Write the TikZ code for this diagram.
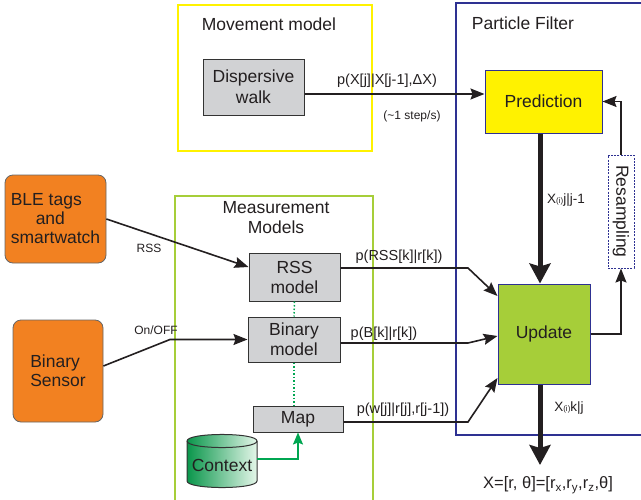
\documentclass[tikz,border=0pt]{standalone}
\usepackage{fontspec}
\setmainfont{Liberation Sans}
\usetikzlibrary{arrows.meta,calc}
\definecolor{orng}{RGB}{242,129,33}
\definecolor{gbox}{RGB}{209,210,212}
\definecolor{ylw}{RGB}{255,242,0}
\definecolor{lgrn}{RGB}{166,206,57}
\definecolor{pfblue}{RGB}{46,49,146}
\definecolor{dgrn}{RGB}{0,166,81}
\definecolor{txt}{RGB}{35,31,32}
\definecolor{cylL}{RGB}{10,150,75}
\definecolor{cylR}{RGB}{228,246,233}
\begin{document}
\begin{tikzpicture}[x=1pt,y=-1pt,
  every node/.style={text=txt},
  big/.style={font=\fontsize{17.5}{21}\selectfont},
  mid/.style={font=\fontsize{14.5}{17}\selectfont},
  outf/.style={font=\fontsize{16.5}{19}\selectfont},
  lbl/.style={font=\fontsize{13.5}{16}\selectfont},
  sml/.style={font=\fontsize{12}{14}\selectfont},
  graybox/.style={draw=black!80, fill=gbox, line width=1pt, inner sep=0pt, big, align=center},
  srcbox/.style={draw=black!60, fill=orng, rounded corners=8pt, line width=0.8pt, inner sep=0pt, font=\fontsize{17.5}{19}\selectfont},
  pfbox/.style={draw=pfblue, line width=1pt, inner sep=0pt, big},
  arr/.style={draw=txt, line width=1.6pt, -{Stealth[length=14pt,width=11pt,inset=2pt]}},
  tarr/.style={draw=txt, line width=5pt, -{Stealth[length=20pt,width=21pt,inset=3pt]}},
  garr/.style={draw=dgrn, line width=1.5pt, -{Stealth[length=12pt,width=10pt,inset=2pt]}},
  gdot/.style={draw=dgrn, line width=1.5pt, dash pattern=on 1.5pt off 2pt}
]
\useasboundingbox (0,0) rectangle (641,499);

% containers
\draw[ylw, line width=2pt] (178,5) rectangle (372,151);
\draw[lgrn, line width=2pt] (175,196) rectangle (373,505);
\draw[pfblue, line width=1.5pt] (456,3) rectangle (648,435);

% titles
\node[big] (movt) at (269,24) {Movement model};
\node[big] (pft) at (523,23) {Particle Filter};
\node[big, align=center, font=\fontsize{17.5}{20}\selectfont] (meast) at (276,218) {Measurement\\Models};

% boxes
\node[graybox, minimum width=101pt, minimum height=56pt] (walk) at (253.5,87) {Dispersive\\walk};
\node[pfbox, fill=ylw, minimum width=117pt, minimum height=63pt] (pred) at (543.5,101.5) {Prediction};
\node[pfbox, fill=lgrn, minimum width=92pt, minimum height=100pt] (upd) at (544,334) {Update};
\node[draw=pfblue, line width=1pt, dash pattern=on 2pt off 1.2pt, fill=white, minimum width=26pt, minimum height=113pt, inner sep=0pt] (res) at (621,211.5) {};
\node[big, rotate=-90] (rest) at (res.center) {Resampling};

\node[srcbox, minimum width=101pt, minimum height=88pt, align=left] (ble) at (55.5,219) {BLE tags\\\hspace*{25pt}and\\smartwatch};
\node[srcbox, minimum width=90pt, minimum height=102pt, align=left] (bins) at (58,371) {Binary\\Sensor};

\node[graybox, minimum width=91pt, minimum height=48pt, font=\fontsize{17.5}{20}\selectfont] (rss) at (294.5,277) {RSS\\model};
\node[graybox, minimum width=92pt, minimum height=45pt, font=\fontsize{17.5}{20}\selectfont] (bin) at (294,339.5) {Binary\\model};
\node[graybox, minimum width=90pt, minimum height=26pt] (map) at (298,419) {Map};

% context cylinder
\path[draw=black!80, line width=1pt, left color=cylL, right color=cylR]
  (187,441) -- (187,481) .. controls (187,489.7) and (257,489.7) .. (257,481)
  -- (257,441) .. controls (257,432.3) and (187,432.3) .. (187,441) -- cycle;
\draw[black!80, line width=1pt] (187,441) .. controls (187,449.7) and (257,449.7) .. (257,441);
\node[big, minimum width=70pt, inner sep=0pt] (ctx) at (222,465) {Context};

% output
\node[outf] (out) at (548,485) {X=[r, θ]=[r\textsubscript{x},r\textsubscript{y},r\textsubscript{z},θ]};
\coordinate (outtip) at (540,465);
\coordinate (bx) at (468,0);
\coordinate (sx) at (170,0);

% connectors
\draw[arr] ([yshift=-7pt]walk.east) coordinate (w1) -- (w1 -| pred.west);
\node[mid] (lblX) at (387,81) {p(X[j]|X[j-1],ΔX)};
\node[sml] (lblstep) at (412,116) {(\textasciitilde1 step/s)};

\draw[tarr] ([xshift=-4pt]upd.north |- pred.south) -- ([xshift=-4pt]upd.north);
\node[lbl] (lblpu) at (566,200) {X{\fontsize{8}{8}\selectfont(i)}j|j-1};
\draw[tarr] ([xshift=-4pt]upd.south) -- (outtip);
\node[lbl] (lbluo) at (569,408) {X{\fontsize{8}{8}\selectfont(i)}k|j};

\draw[arr] (upd.east) -| (res.south);
\draw[arr] (res.north) |- (pred.east);

\draw[arr] (ble.east) -- ([yshift=10pt]rss.west);
\node[sml] (lblrss) at (149,248) {RSS};
\draw[arr] ([yshift=5pt]bins.east) -- (bin.west -| sx) -- (bin.west);
\node[sml] (lblonoff) at (156,330) {On/OFF};

\draw[arr] ([yshift=9pt]rss.east) coordinate (r1) -- (r1 -| bx) -- ([yshift=38pt]upd.west);
\node[mid] (lblr) at (399,257) {p(RSS[k]|r[k])};
\draw[arr] ([yshift=-3.5pt]bin.east) coordinate (b1) -- (b1 -| bx) -- ([yshift=-2pt]upd.west);
\node[mid] (lblb) at (384,334) {p(B[k]|r[k])};
\draw[arr] ([yshift=-3pt]map.east) coordinate (m1) -- (m1 -| bx) -- ([yshift=-44pt]upd.west);
\node[mid] (lblm) at (403,410) {p(w[j]|r[j],r[j-1])};

\draw[gdot] (rss.south) -- (bin.north);
\draw[gdot] (bin.south) -- (bin.south |- map.north);
\draw[garr] ([yshift=6pt]ctx.east) -| (map.south);
\end{tikzpicture}
\end{document}
